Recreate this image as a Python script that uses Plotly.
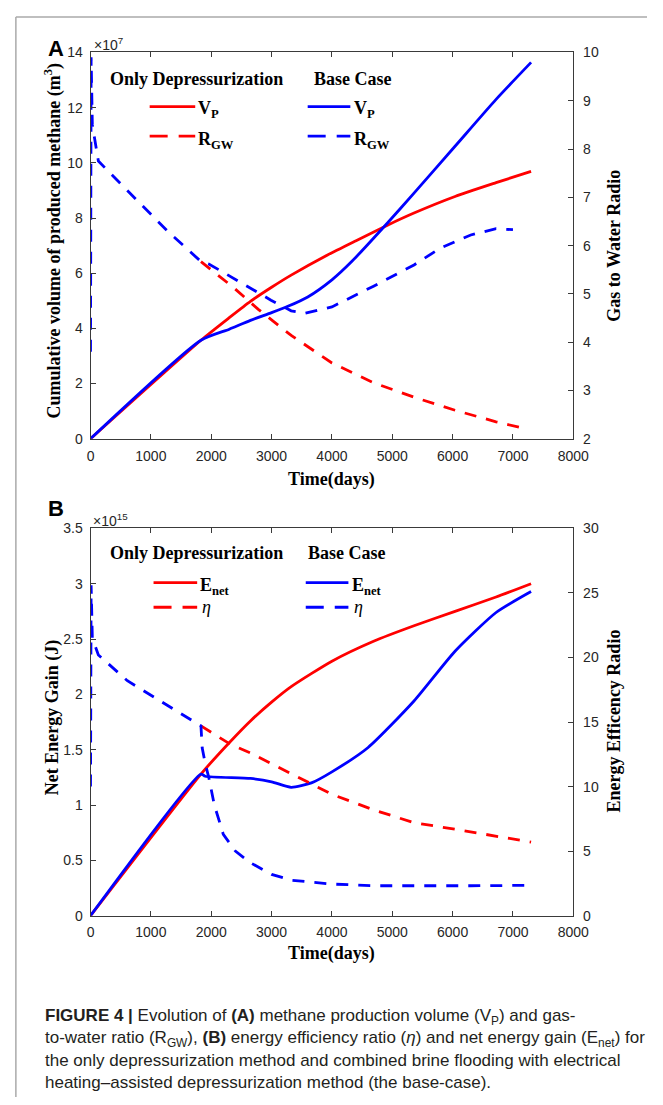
import plotly.graph_objects as go

# ---------------- data ----------------
# Panel A: cumulative methane volume V_P (m^3) and gas-to-water ratio R_GW
t_vp_od = [0, 1830, 2300, 2650, 3000, 3325, 3935, 4400, 4920, 5360, 6040, 6720, 7300]
vp_od = [0, 3.57e7, 4.39e7, 4.98e7, 5.49e7, 5.93e7, 6.67e7, 7.18e7, 7.74e7, 8.18e7, 8.78e7, 9.28e7, 9.69e7]

t_vp_bc = [0, 1830, 2300, 2650, 3000, 3260, 3600, 4000, 4340, 4920, 5360, 6040, 6720, 7300]
vp_bc = [0, 3.57e7, 3.97e7, 4.29e7, 4.57e7, 4.79e7, 5.14e7, 5.76e7, 6.45e7, 7.82e7, 8.9e7, 10.6e7, 12.3e7, 13.64e7]

t_rgw_bc = [0, 10, 30, 130, 610, 1285, 1830, 1960, 2580, 2990, 3325, 3560, 4000, 4690, 5360, 5800, 6300, 6720, 7000]
rgw_bc = [3.8, 9.9, 8.5, 7.75, 7.14, 6.29, 5.67, 5.62, 5.17, 4.87, 4.65, 4.6, 4.73, 5.16, 5.6, 5.95, 6.22, 6.35, 6.33]

# only-depressurization R_GW coincides with the base case before ~1830 days
t_rgw_od = [1830, 2380, 2780, 3325, 4000, 4690, 5360, 6040, 6720, 7230]
rgw_od = [5.67, 5.12, 4.68, 4.14, 3.57, 3.16, 2.86, 2.59, 2.35, 2.2]

# Panel B: net energy gain E_net (J) and energy efficiency ratio eta
t_en_od = [0, 1830, 2310, 2650, 3000, 3325, 4000, 4690, 5360, 6040, 6720, 7300]
en_od = [0, 1.28e15, 1.57e15, 1.76e15, 1.93e15, 2.07e15, 2.30e15, 2.48e15, 2.62e15, 2.75e15, 2.88e15, 3.0e15]

t_en_bc = [0, 1830, 1900, 2650, 3000, 3325, 3660, 4000, 4600, 5360, 6040, 6720, 7300]
en_bc = [0, 1.28e15, 1.26e15, 1.24e15, 1.21e15, 1.16e15, 1.2e15, 1.30e15, 1.52e15, 1.94e15, 2.39e15, 2.74e15, 2.93e15]

t_eta_bc = [0, 10, 30, 130, 610, 1285, 1780, 1830, 1850, 1900, 1960, 2050, 2200, 2400, 2650, 3000, 3325, 4000, 4690, 5500, 6300, 7300]
eta_bc = [10.0, 25.6, 21.5, 20.2, 18.2, 16.3, 14.9, 14.7, 13.0, 11.8, 10.7, 8.6, 6.3, 5.0, 4.1, 3.2, 2.75, 2.45, 2.32, 2.3, 2.32, 2.35]

# only-depressurization eta coincides with the base case before ~1830 days
t_eta_od = [1830, 2000, 2310, 2650, 3325, 4000, 4690, 5360, 6040, 6720, 7300]
eta_od = [14.7, 14.2, 13.3, 12.6, 11.0, 9.4, 8.2, 7.2, 6.7, 6.15, 5.7]

x_ticks = [0, 1000, 2000, 3000, 4000, 5000, 6000, 7000, 8000]
ya_ticks = [0, 2e7, 4e7, 6e7, 8e7, 10e7, 12e7, 14e7]
ya_labels = ["0", "2", "4", "6", "8", "10", "12", "14"]
yb_ticks = [0, 0.5e15, 1e15, 1.5e15, 2e15, 2.5e15, 3e15, 3.5e15]
yb_labels = ["0", "0.5", "1", "1.5", "2", "2.5", "3", "3.5"]

# ---------------- styling ----------------
OFF = 8                      # default page body margin
W, H = 663 - OFF, 1105 - OFF
def px(x):
    return (x - OFF) / W
def py(y):
    return 1 - (y - OFF) / H

RED = "#FF0000"
BLUE = "#0000FF"
LW = 2.8
DASH = "12px,10px"
AX = "#3a3a3a"
SERIF = "Liberation Serif, Times New Roman, serif"
SANS = "Liberation Sans, Arial, sans-serif"

fig = go.Figure()

def add(t, v, color, dash, xa, ya, shape="linear"):
    fig.add_trace(go.Scatter(x=t, y=v, mode="lines", xaxis=xa, yaxis=ya,
                             line=dict(color=color, width=LW, dash=dash,
                                       shape=shape, smoothing=0.6),
                             showlegend=False, hoverinfo="skip"))

# Panel A
add(t_vp_od, vp_od, RED, "solid", "x", "y", "spline")
add(t_vp_bc, vp_bc, BLUE, "solid", "x", "y", "spline")
add(t_rgw_od, rgw_od, RED, DASH, "x", "y2")
add(t_rgw_bc, rgw_bc, BLUE, DASH, "x", "y2")
# Panel B
add(t_en_od, en_od, RED, "solid", "x2", "y3", "spline")
add(t_en_bc, en_bc, BLUE, "solid", "x2", "y3", "spline")
add(t_eta_od, eta_od, RED, DASH, "x2", "y4")
add(t_eta_bc, eta_bc, BLUE, DASH, "x2", "y4")

tickfont = dict(family=SANS, size=14, color="#262626")
common_x = dict(range=[0, 8000], tickvals=x_ticks, ticks="inside", ticklen=5,
                tickcolor=AX, showline=True, linecolor=AX, linewidth=1,
                mirror="ticks", showgrid=False, zeroline=False, tickfont=tickfont,
                ticklabelstandoff=4, domain=[px(89), px(587)])
common_y = dict(ticks="inside", ticklen=5, tickcolor=AX, showline=True,
                linecolor=AX, linewidth=1, showgrid=False, zeroline=False,
                tickfont=tickfont)

fig.update_layout(
    width=W, height=H,
    margin=dict(l=0, r=0, t=0, b=0),
    paper_bgcolor="white", plot_bgcolor="white",
    xaxis=dict(anchor="y", **common_x),
    yaxis=dict(domain=[py(437), py(45)], range=[0, 14e7], tickvals=ya_ticks,
               ticktext=ya_labels, anchor="x", ticklabelstandoff=4, **common_y),
    yaxis2=dict(overlaying="y", side="right", anchor="x", range=[2, 10],
                dtick=1, ticklabelstandoff=6, **common_y),
    xaxis2=dict(anchor="y3", **common_x),
    yaxis3=dict(domain=[py(921), py(528)], range=[0, 3.5e15], tickvals=yb_ticks,
                ticktext=yb_labels, anchor="x2", ticklabelstandoff=4, **common_y),
    yaxis4=dict(overlaying="y3", side="right", anchor="x2", range=[0, 30],
                dtick=5, ticklabelstandoff=6, **common_y),
)

ann = []
shapes = []

def text(x, y, s, size=18, family=SERIF, xanchor="left", yanchor="middle",
         angle=0, color="black"):
    ann.append(dict(x=px(x), y=py(y), xref="paper", yref="paper", text=s,
                    showarrow=False, xanchor=xanchor, yanchor=yanchor,
                    textangle=angle, font=dict(family=family, size=size, color=color)))

def sample(x0, x1, y, color, dash):
    shapes.append(dict(type="line", xref="paper", yref="paper",
                       x0=px(x0), x1=px(x1), y0=py(y), y1=py(y),
                       line=dict(color=color, width=LW, dash=dash)))

# frame
shapes.append(dict(type="line", xref="paper", yref="paper", x0=px(12), x1=1.0,
                   y0=py(9), y1=py(9), line=dict(color="#aaaaaa", width=1.5)))
shapes.append(dict(type="line", xref="paper", yref="paper", x0=px(12), x1=px(12),
                   y0=py(9), y1=0, line=dict(color="#aaaaaa", width=1.5)))

# panel letters and exponents
text(43, 41, "<b>A</b>", size=22, family=SANS)
text(43, 508, "<b>B</b>", size=22, family=SANS)
text(91, 36, "×10<sup>7</sup>", size=14, family=SANS, color="#262626")
text(89, 519, "×10<sup>15</sup>", size=14, family=SANS, color="#262626")

# axis titles
text(338, 478, "<b>Time(days)</b>", xanchor="center")
text(338, 959, "<b>Time(days)</b>", xanchor="center")
text(50, 236, "<b>Cumulative volume of produced methane (m<sup>3</sup>)</b>",
     xanchor="center", angle=-90)
text(629, 241, "<b>Gas to Water Radio</b>", xanchor="center", angle=-90)
text(50, 720, "<b>Net Energy Gain (J)</b>", xanchor="center", angle=-90)
text(629, 724, "<b>Energy Efficency Radio</b>", xanchor="center", angle=-90)

# legend A
text(107, 72, "<b>Only Depressurization</b>")
text(317, 72, "<b>Base Case</b>")
sample(150, 197, 100, RED, "solid")
sample(150, 197, 130, RED, "18px,11px")
sample(313, 357, 100, BLUE, "solid")
sample(313, 357, 130, BLUE, "18px,11px")
text(198, 103, "<b>V<sub>P</sub></b>")
text(198, 134, "<b>R<sub>GW</sub></b>")
text(359, 103, "<b>V<sub>P</sub></b>")
text(359, 134, "<b>R<sub>GW</sub></b>")

# legend B
text(107, 553, "<b>Only Depressurization</b>")
text(311, 553, "<b>Base Case</b>")
sample(154, 199, 583, RED, "solid")
sample(154, 199, 608, RED, "18px,11px")
sample(311, 355, 583, BLUE, "solid")
sample(311, 355, 608, BLUE, "18px,11px")
text(200, 587, "<b>E<sub>net</sub></b>")
text(202, 608, "<i>η</i>")
text(357, 587, "<b>E<sub>net</sub></b>")
text(359, 608, "<i>η</i>")

# caption
cap = [
    "<b>FIGURE 4 |</b> Evolution of <b>(A)</b> methane production volume (V<sub>P</sub>) and gas-",
    "to-water ratio (R<sub>GW</sub>), <b>(B)</b> energy efficiency ratio (<i>η</i>) and net energy gain (E<sub>net</sub>) for",
    "the only depressurization method and combined brine flooding with electrical",
    "heating–assisted depressurization method (the base-case).",
]
for i, line in enumerate(cap):
    text(40, 1024 + 22 * i, line, size=17, family=SANS, color="#231f20")

fig.update_layout(annotations=ann, shapes=shapes)
fig.write_html("out.html")
